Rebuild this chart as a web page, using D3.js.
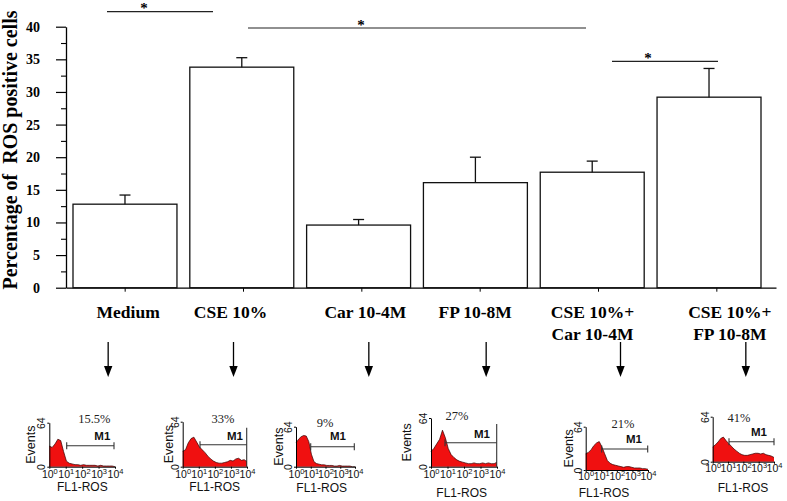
<!DOCTYPE html>
<html><head><meta charset="utf-8">
<script src="https://cdn.jsdelivr.net/npm/d3@7"></script>
<style>body{margin:0;background:#fff} svg{display:block}</style>
</head><body>
<svg id="c" width="787" height="501"></svg>
<script>
// ---------------- data ----------------
const categories = ["Medium", "CSE 10%", "Car 10-4M", "FP 10-8M", "CSE 10%+ Car 10-4M", "CSE 10%+ FP 10-8M"];
const labelLines = [["Medium"], ["CSE 10%"], ["Car 10-4M"], ["FP 10-8M"], ["CSE 10%+", "Car 10-4M"], ["CSE 10%+", "FP 10-8M"]];
const means  = [12.8, 33.8, 9.6, 16.1, 17.7, 29.2];
const errors = [1.4, 1.45, 0.85, 3.9, 1.7, 4.4];
const yTickValues = [0, 5, 10, 15, 20, 25, 30, 35, 40];
const yMinorTicks = [2.5, 7.5, 12.5, 17.5, 22.5, 27.5, 32.5, 37.5];
const sigLevels = [42.3, 39.8, 34.7];
const sigLabels = ["*", "*", "*"];
const yTitle = "Percentage of  ROS positive cells";

// flow cytometry histograms (counts, 0-64 scale, across 4 log decades)
const hist1 = [30, 28, 33, 40, 38, 22, 8, 5, 4, 3, 3, 2, 3, 2, 2, 2, 2, 1, 2, 1, 1, 1, 1, 0];
const hist2 = [22, 24, 34, 40, 42, 35, 28, 24, 20, 15, 11, 8, 6, 5, 5, 6, 7, 9, 8, 11, 12, 9, 10, 7];
const hist3 = [38, 44, 48, 50, 49, 40, 20, 8, 5, 4, 3, 3, 2, 2, 2, 1, 1, 2, 1, 1, 1, 1, 0, 0];
const hist4 = [20, 24, 30, 36, 48, 38, 24, 16, 12, 9, 7, 6, 5, 4, 4, 5, 4, 4, 5, 4, 5, 4, 4, 6];
const hist5 = [24, 26, 30, 36, 40, 42, 34, 24, 14, 10, 8, 7, 6, 5, 4, 5, 5, 4, 3, 3, 3, 2, 2, 1];
const hist6 = [21, 24, 28, 33, 35, 30, 26, 22, 18, 15, 12, 10, 9, 9, 10, 11, 12, 12, 11, 12, 10, 9, 8, 6];
const histograms = [hist1, hist2, hist3, hist4, hist5, hist6];
const histPercents = ["15.5%", "33%", "9%", "27%", "21%", "41%"];
const histTicks = [1, 10, 100, 1000, 10000];
const histTickExponents = ["0", "1", "2", "3", "4"];
const histYTicks = [0, 64];

// ---------------- layout ----------------
const svg = d3.select("#c");
const serif = "'Liberation Serif','Times New Roman',serif";
const sans = "'Liberation Sans',Arial,sans-serif";

const y = d3.scaleLinear().domain([0, 40]).range([287.7, 26.7]);
const xAxisScale = d3.scaleBand().domain(categories).range([66, 776]);
const xBar = d3.scaleBand().domain(categories).range([73, 761]).paddingInner(0.11).paddingOuter(0);
const cAxis = c => xAxisScale(c) + xAxisScale.bandwidth() / 2;
const cBar = c => xBar(c) + xBar.bandwidth() / 2;

const labelDx = [3, -13, 3.5, -5, -6, 13];
const arrowDx = [-17, -10, 7, 6, 22, 29];
const sigX = [[107, 213], [248, 586], [612, 718]];

// y axis title
svg.append("text").attr("transform", "translate(17,150) rotate(-90)")
  .attr("text-anchor", "middle").attr("font-family", serif).attr("font-weight", "bold")
  .attr("font-size", 20).attr("fill", "#000").style("white-space", "pre").text(yTitle);

// y axis
const yAxisG = svg.append("g").attr("transform", "translate(66,0)")
  .call(d3.axisLeft(y).tickValues(yTickValues).tickSize(10).tickSizeOuter(0).tickPadding(16).tickFormat(d3.format("d")));
yAxisG.selectAll("text").attr("fill", "#000").attr("font-family", serif)
  .attr("font-size", 14).attr("font-weight", "bold");
yAxisG.select(".domain").attr("stroke", "#000").attr("stroke-width", 1.3);
yAxisG.selectAll(".tick line").attr("stroke", "#000").attr("stroke-width", 1.2);
const yMinorG = svg.append("g").attr("transform", "translate(66,0)")
  .call(d3.axisLeft(y).tickValues(yMinorTicks).tickSize(5).tickSizeOuter(0).tickFormat(""));
yMinorG.select(".domain").remove();
yMinorG.selectAll(".tick line").attr("stroke", "#000").attr("stroke-width", 1.1);

// x axis
const xAxisG = svg.append("g").attr("transform", `translate(0,${y(0)})`)
  .call(d3.axisBottom(xAxisScale).tickSize(4).tickSizeOuter(0).tickFormat(""));
xAxisG.select(".domain").attr("stroke", "#000").attr("stroke-width", 1.3);
xAxisG.selectAll(".tick line").attr("stroke", "#000").attr("y1", -3);

// bars
svg.append("g").selectAll("rect").data(means).join("rect")
  .attr("x", (d, i) => xBar(categories[i]))
  .attr("y", d => y(d))
  .attr("width", xBar.bandwidth())
  .attr("height", d => y(0) - y(d))
  .attr("fill", "#fff").attr("stroke", "#111").attr("stroke-width", 1.3);

// error bars
const eg = svg.append("g").attr("stroke", "#111").attr("stroke-width", 1.3);
means.forEach((m, i) => {
  const cx = cBar(categories[i]);
  eg.append("line").attr("x1", cx).attr("x2", cx).attr("y1", y(m)).attr("y2", y(m + errors[i]));
  eg.append("line").attr("x1", cx - 5.5).attr("x2", cx + 5.5).attr("y1", y(m + errors[i])).attr("y2", y(m + errors[i]));
});

// significance
const starDx = [-16, -56, -17];
sigLevels.forEach((lv, i) => {
  const [a, b] = sigX[i];
  svg.append("line").attr("x1", a).attr("x2", b).attr("y1", y(lv)).attr("y2", y(lv))
    .attr("stroke", "#222").attr("stroke-width", 1.2);
  svg.append("text").attr("x", (a + b) / 2 + starDx[i]).attr("y", y(lv) + 1.5)
    .attr("text-anchor", "middle").attr("font-family", serif).attr("font-weight", "bold")
    .attr("font-size", 15).attr("fill", "#000").text(sigLabels[i]);
});

// category labels
labelLines.forEach((lines, i) => {
  const t = svg.append("text").attr("text-anchor", "middle").attr("font-family", serif)
    .attr("font-weight", "bold").attr("font-size", 17.5).attr("fill", "#000");
  lines.forEach((ln, k) => {
    t.append("tspan").attr("x", cAxis(categories[i]) + labelDx[i]).attr("y", 318 + k * 22).text(ln);
  });
});

// arrows
categories.forEach((c, i) => {
  const ax = cAxis(c) + arrowDx[i];
  svg.append("line").attr("x1", ax).attr("x2", ax).attr("y1", 342).attr("y2", 367)
    .attr("stroke", "#000").attr("stroke-width", 1.3);
  svg.append("path").attr("d", `M${ax - 4.2},366 L${ax + 4.2},366 L${ax},377 Z`).attr("fill", "#000");
});

// histogram panels
const panels = [
  {x: 49.3, y: 466.7, w: 65.7, h: 44, pct: [45, -44], m1: [61, -27], br: [17.4, 64.7, -21], tall: false, ev: -14, fl: [33, 24], tk: 11},
  {x: 182.7, y: 466.7, w: 64.3, h: 45, pct: [40.3, -44], m1: [60.3, -27], br: [17.3, 64, -22], tall: true, ev: -10, fl: [32, 24], tk: 11},
  {x: 296, y: 466.7, w: 59, h: 40, pct: [29, -40], m1: [50, -27], br: [14.7, 58.3, -20], tall: false, ev: -13, fl: [25.7, 25], tk: 11},
  {x: 431, y: 466.7, w: 66, h: 48.7, pct: [26, -47], m1: [59, -29], br: [14, 65.7, -24], tall: true, ev: -20, fl: [30.7, 30], tk: 11},
  {x: 585.7, y: 470, w: 62.3, h: 43.3, pct: [37.3, -42], m1: [56.3, -27], br: [16, 62, -21], tall: false, ev: -13, fl: [18.3, 27], tk: 10},
  {x: 712.7, y: 461.7, w: 61.3, h: 45, pct: [26.3, -40], m1: [54.3, -26], br: [16.3, 61.3, -20], tall: false, ev: null, fl: [30.3, 30], tk: 10}
];

panels.forEach((p, i) => {
  const data = histograms[i];
  const g = svg.append("g").attr("transform", `translate(${p.x},${p.y})`);
  const hx = d3.scaleLinear().domain([0, data.length - 1]).range([0, p.w]);
  const hy = d3.scaleLinear().domain([0, 64]).range([0, -p.h]);
  g.append("path").datum(data)
    .attr("d", d3.area().x((d, j) => hx(j)).y0(0).y1(d => hy(d)))
    .attr("fill", "#f01010");
  g.append("path").datum(data)
    .attr("d", d3.line().x((d, j) => hx(j)).y(d => hy(d)))
    .attr("fill", "none").attr("stroke", "#300").attr("stroke-width", 0.7);
  // x axis (log decades)
  const lx = d3.scaleLog().domain([1, 10000]).range([0, p.w]);
  const xa = g.append("g").call(d3.axisBottom(lx).tickValues(histTicks).tickSize(2).tickSizeOuter(0).tickFormat(""));
  xa.select(".domain").attr("stroke", "#000").attr("stroke-width", 1);
  xa.selectAll(".tick").append("text")
    .attr("y", p.tk).attr("text-anchor", "middle").attr("font-family", sans).attr("font-size", 10.5).attr("fill", "#111")
    .each(function(d, k) {
      const t = d3.select(this);
      t.append("tspan").text("10");
      t.append("tspan").attr("dy", -4).attr("font-size", 7.5).text(histTickExponents[k]);
    });
  // y axis
  const ya = g.append("g").call(d3.axisLeft(hy).tickValues(histYTicks).tickSize(2).tickSizeOuter(0));
  ya.selectAll("text").attr("x", 0).attr("y", -4).attr("dy", 0).attr("transform", "rotate(-90)")
    .attr("text-anchor", "middle").attr("fill", "#111").attr("font-family", sans).attr("font-size", 10.5);
  ya.select(".domain").attr("stroke", "#000").attr("stroke-width", 1);
  if (p.ev !== null) {
    g.append("text").attr("transform", `translate(${p.ev},${-p.h / 2}) rotate(-90)`)
      .attr("text-anchor", "middle").attr("font-family", sans).attr("font-size", 12.5).attr("fill", "#111").text("Events");
  }
  // percent and M1
  g.append("text").attr("x", p.pct[0]).attr("y", p.pct[1]).attr("text-anchor", "middle")
    .attr("font-family", serif).attr("font-size", 12.5).attr("fill", "#222").text(histPercents[i]);
  g.append("text").attr("x", p.m1[0]).attr("y", p.m1[1]).attr("text-anchor", "end")
    .attr("font-family", sans).attr("font-weight", "bold").attr("font-size", 11.5).attr("fill", "#111").text("M1");
  const [b1, b2, by] = p.br;
  const bg = g.append("g").attr("stroke", "#333").attr("stroke-width", 1.1);
  bg.append("line").attr("x1", b1).attr("x2", b2).attr("y1", by).attr("y2", by);
  bg.append("line").attr("x1", b1).attr("x2", b1).attr("y1", by - 3.5).attr("y2", by + 3.5);
  if (p.tall) bg.append("line").attr("x1", b2).attr("x2", b2).attr("y1", -p.h + 6).attr("y2", 0);
  else bg.append("line").attr("x1", b2).attr("x2", b2).attr("y1", by - 3.5).attr("y2", by + 3.5);
  g.append("text").attr("x", p.fl[0]).attr("y", p.fl[1]).attr("text-anchor", "middle")
    .attr("font-family", sans).attr("font-size", 12).attr("fill", "#111").text("FL1-ROS");
});
</script>
</body></html>
